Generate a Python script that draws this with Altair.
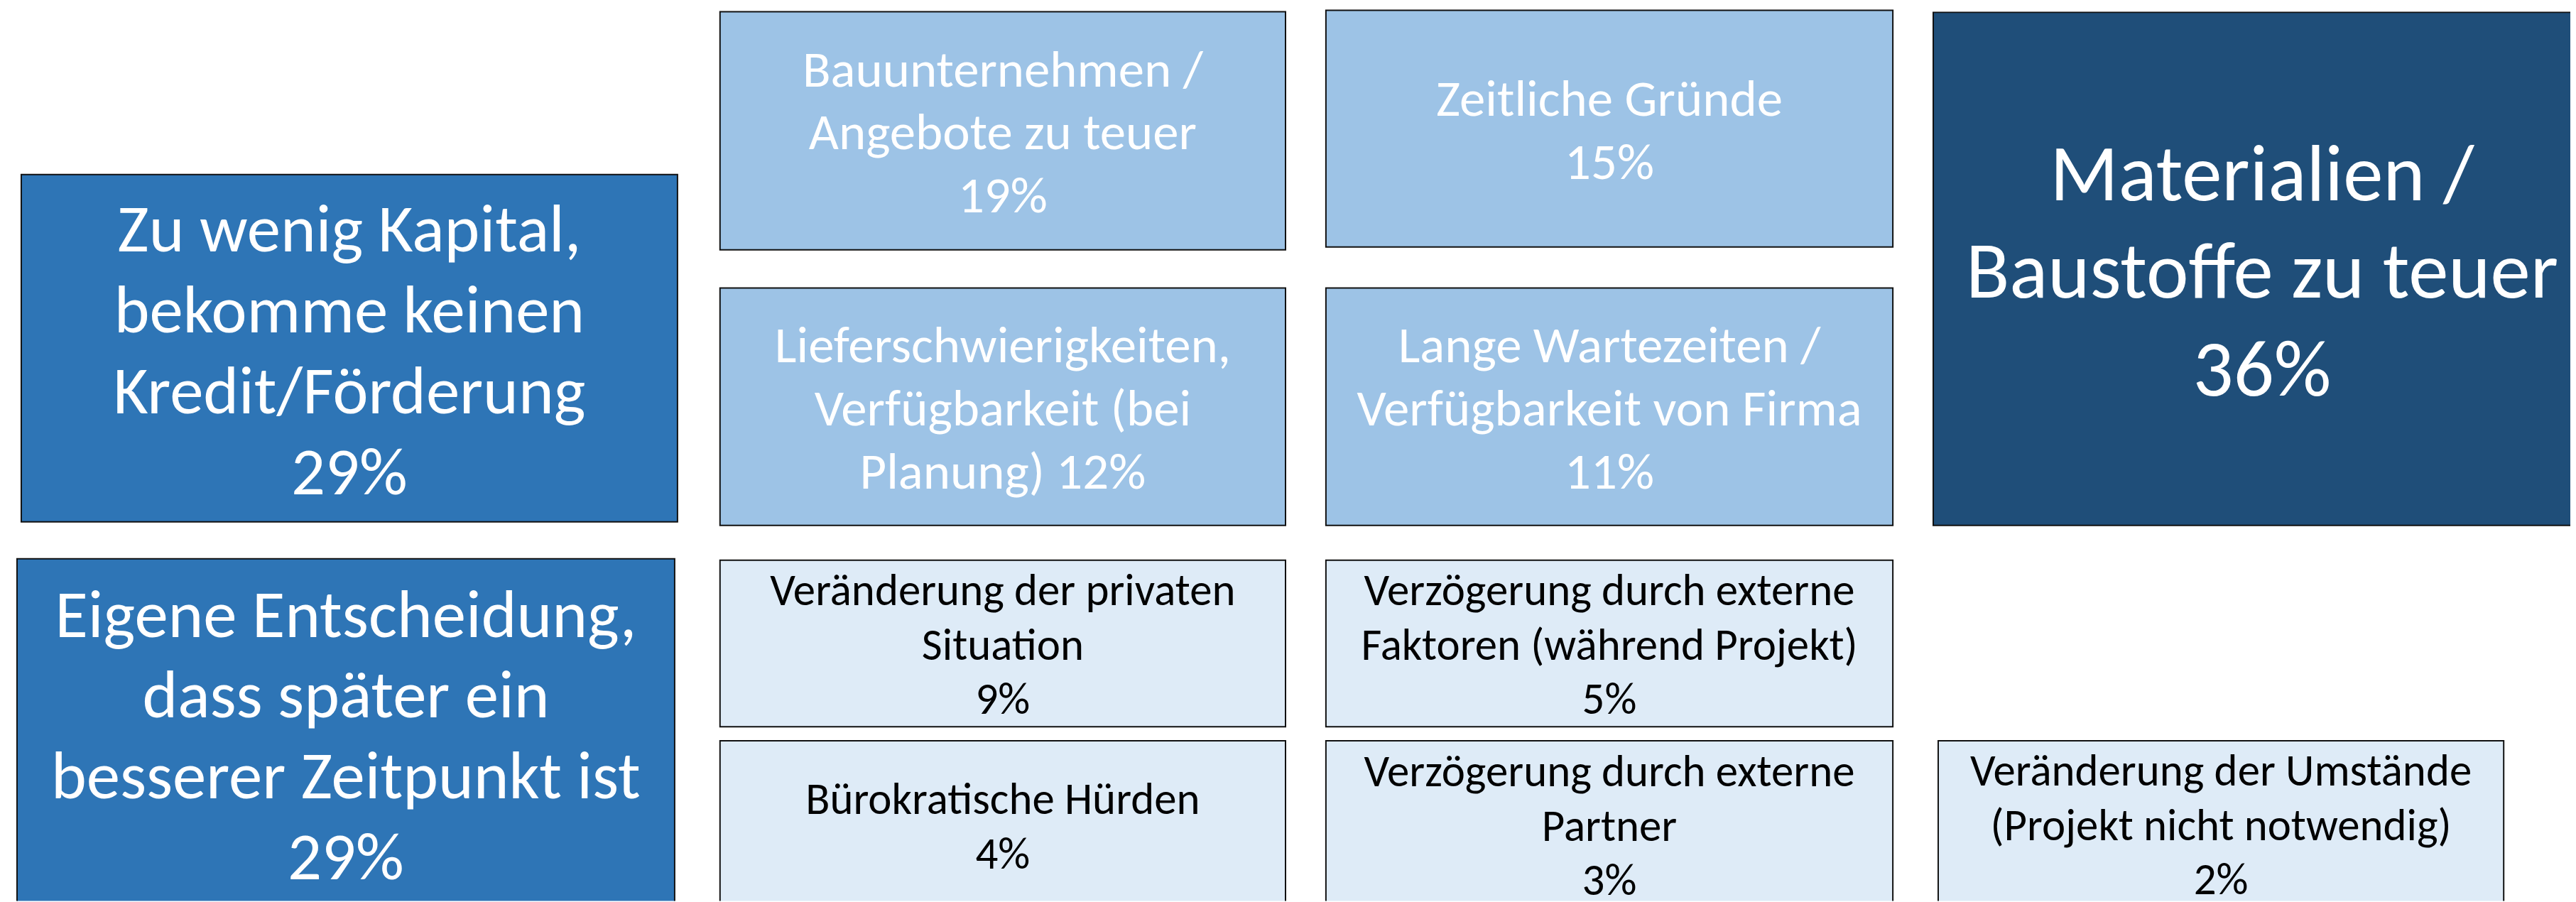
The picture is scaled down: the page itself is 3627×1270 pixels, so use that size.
import altair as alt
import pandas as pd

# ---- data -------------------------------------------------------------
reasons = [
    "Zu wenig Kapital, bekomme keinen Kredit/Förderung",
    "Eigene Entscheidung, dass später ein besserer Zeitpunkt ist",
    "Bauunternehmen / Angebote zu teuer",
    "Lieferschwierigkeiten, Verfügbarkeit (bei Planung)",
    "Zeitliche Gründe",
    "Lange Wartezeiten / Verfügbarkeit von Firma",
    "Materialien / Baustoffe zu teuer",
    "Veränderung der privaten Situation",
    "Bürokratische Hürden",
    "Verzögerung durch externe Faktoren (während Projekt)",
    "Verzögerung durch externe Partner",
    "Veränderung der Umstände (Projekt nicht notwendig)",
]
shares = [29, 29, 19, 12, 15, 11, 36, 9, 4, 5, 3, 2]

# line breaks as shown in the tiles ({p} = share in percent)
label_lines = [
    "Zu wenig Kapital,|bekomme keinen|Kredit/Förderung|{p}",
    "Eigene Entscheidung,|dass später ein|besserer Zeitpunkt ist|{p}",
    "Bauunternehmen /|Angebote zu teuer|{p}",
    "Lieferschwierigkeiten,|Verfügbarkeit (bei|Planung) {p}",
    "Zeitliche Gründe|{p}",
    "Lange Wartezeiten /|Verfügbarkeit von Firma|{p}",
    "Materialien /|Baustoffe zu teuer|{p}",
    "Veränderung der privaten|Situation|{p}",
    "Bürokratische Hürden|{p}",
    "Verzögerung durch externe|Faktoren (während Projekt)|{p}",
    "Verzögerung durch externe|Partner|{p}",
    "Veränderung der Umstände|(Projekt nicht notwendig)|{p}",
]
tiers = ["mid", "mid", "light", "light", "light", "light", "dark",
         "pale", "pale", "pale", "pale", "pale"]

# ---- tile layout (layout units) --------------------------------------
tile_left = [30, 24, 1016, 1016, 1871, 1871, 2728, 1016, 1016, 1871, 1871, 2735]
tile_right = [956, 952, 1814, 1814, 2671, 2671, 3656, 1814, 1814, 2671, 2671, 3533]
tile_top = [245, 787, 15, 405, 13, 405, 16, 789, 1044, 789, 1044, 1044]
tile_bottom = [735, 1280, 351, 740, 347, 740, 740, 1024, 1282, 1024, 1280, 1278]

tier_names = ["dark", "mid", "light", "pale"]
tier_fill = ["#1F4E79", "#2E75B6", "#9DC3E6", "#DEEBF7"]

FONT = "Carlito, Calibri, Lato, sans-serif"
text_style = {
    "dark": dict(fontSize=113, lineHeight=138, color="white"),
    "mid": dict(fontSize=95, lineHeight=114, color="white"),
    "light": dict(fontSize=73, lineHeight=89, color="white"),
    "pale": dict(fontSize=63, lineHeight=77, color="black"),
}

df = pd.DataFrame({
    "reason": reasons,
    "share": shares,
    "tier": tiers,
    "x0": tile_left, "x1": tile_right,
    "y0": tile_top, "y1": tile_bottom,
})
df["lines"] = [t.format(p=f"{s}%").split("|") for t, s in zip(label_lines, shares)]
df["xc"] = (df["x0"] + df["x1"]) / 2
# first-line anchor so that the whole text block is centred in its tile
df["yt"] = [
    (a + b) / 2 - (len(ln) - 1) * text_style[t]["lineHeight"] / 2
    for a, b, ln, t in zip(df["y0"], df["y1"], df["lines"], df["tier"])
]

W, H = 3619, 1262
xs = alt.Scale(domain=[8, 3627])
ys = alt.Scale(domain=[8, 1270], reverse=True)
noax = None

base = alt.Chart(df)

tiles = base.mark_rect(stroke="#111111", strokeWidth=2, clip=True).encode(
    x=alt.X("x0:Q", scale=xs, axis=noax),
    x2="x1:Q",
    y=alt.Y("y0:Q", scale=ys, axis=noax),
    y2="y1:Q",
    color=alt.Color("tier:N", scale=alt.Scale(domain=tier_names, range=tier_fill), legend=None),
    tooltip=["reason:N", "share:Q"],
)

layers = [tiles]
for tname in tier_names:
    st = text_style[tname]
    layers.append(
        base.transform_filter(alt.datum.tier == tname).mark_text(
            font=FONT, fontSize=st["fontSize"], lineHeight=st["lineHeight"],
            color=st["color"], align="center", baseline="middle",
            dy=st["fontSize"] * 0.06, clip=True,
        ).encode(
            x=alt.X("xc:Q", scale=xs, axis=noax),
            y=alt.Y("yt:Q", scale=ys, axis=noax),
            text="lines",
        )
    )

chart = alt.layer(*layers).properties(
    width=W, height=H, autosize=alt.AutoSizeParams(type="none"), padding=0,
    background="white",
).configure_view(strokeWidth=0)

chart.save("out.html", embed_options={"renderer": "svg", "actions": False})
